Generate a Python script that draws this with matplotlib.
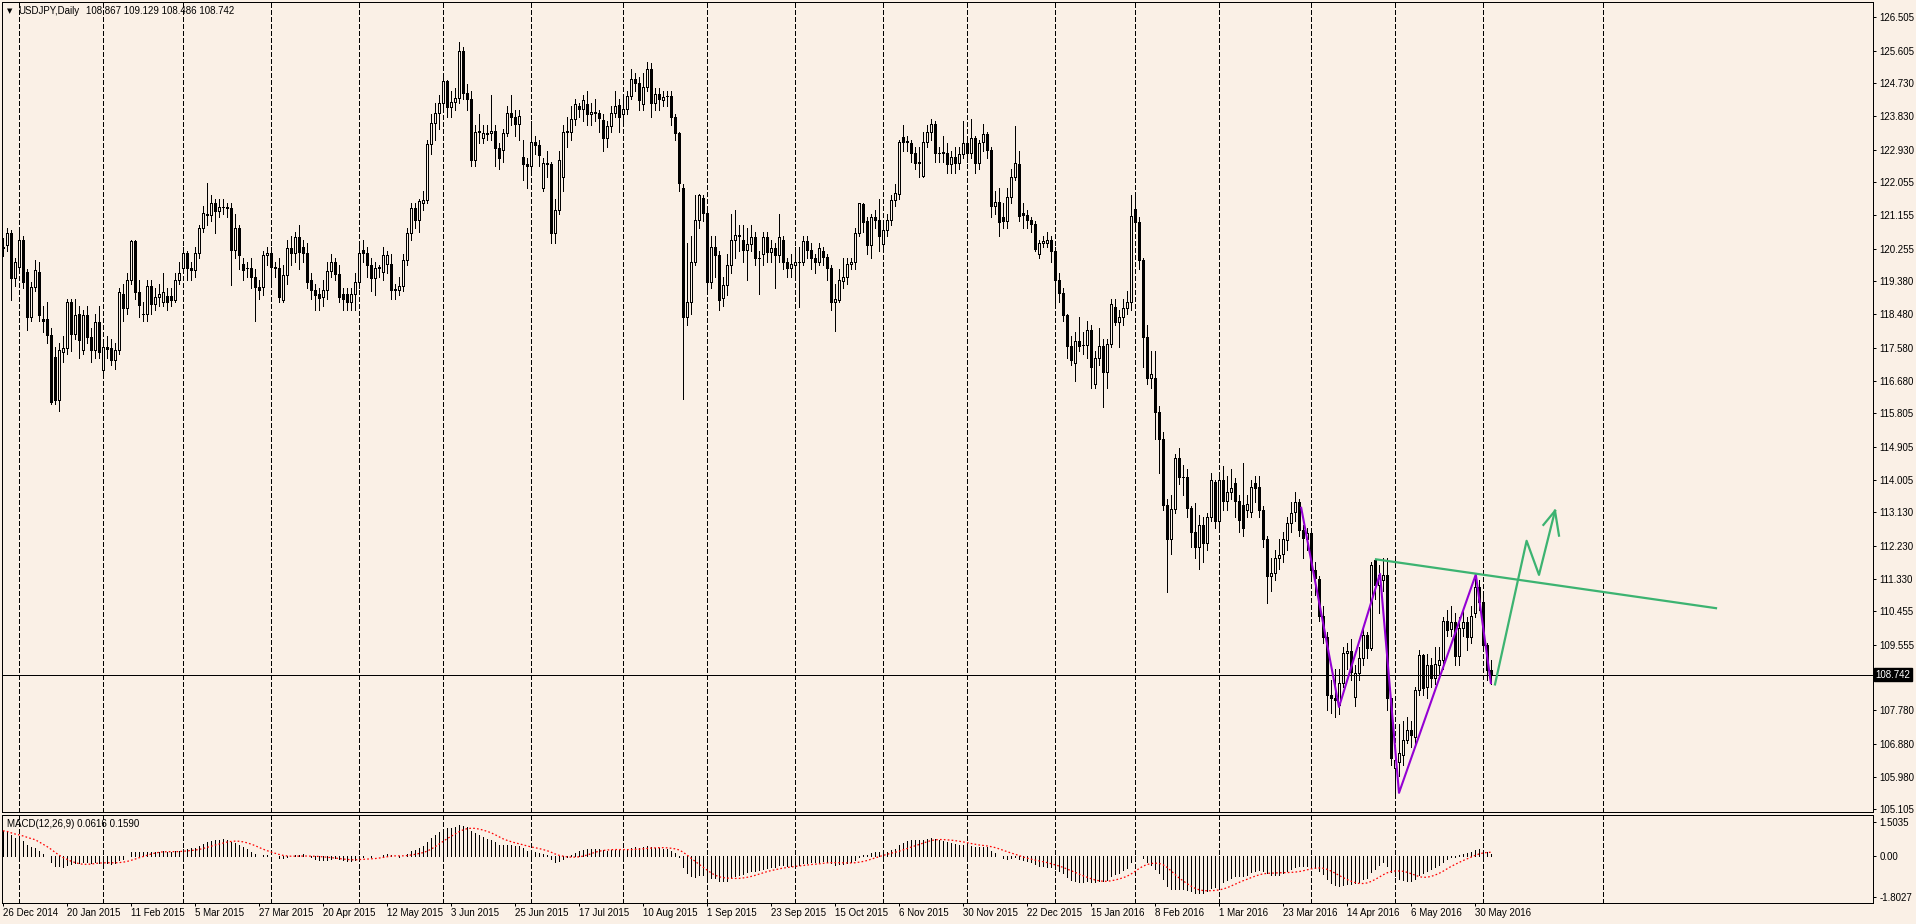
import numpy as np
import pandas as pd
import matplotlib
matplotlib.use("Agg")
import matplotlib.pyplot as plt
import matplotlib.transforms as mtrans

# USDJPY daily bars, 26 Dec 2014 .. 3 Jun 2016
opens = [
    120.30, 120.35, 120.67, 119.45, 119.76, 120.49, 119.63, 118.41, 119.22, 119.63,
    118.34, 118.34, 117.92, 117.33, 116.16, 117.47, 117.56, 118.82, 117.96, 118.50,
    117.51, 118.46, 117.87, 117.51, 118.28, 116.97, 117.60, 117.56, 117.24, 117.51,
    119.04, 118.64, 119.40, 120.47, 119.09, 118.50, 118.48, 119.24, 118.77, 118.95,
    118.82, 118.97, 118.97, 118.86, 119.40, 119.72, 120.13, 119.72, 119.67, 120.13,
    120.80, 121.16, 121.16, 121.48, 121.28, 121.39, 121.37, 121.34, 120.22, 120.80,
    119.83, 119.73, 119.72, 119.48, 119.21, 119.21, 120.08, 120.13, 119.76, 119.72,
    118.86, 119.54, 120.26, 120.13, 120.56, 120.31, 120.13, 119.40, 119.13, 119.02,
    118.95, 119.15, 119.66, 119.90, 119.58, 119.03, 119.04, 118.82, 119.03, 119.36,
    120.22, 120.13, 119.81, 119.45, 119.72, 119.63, 119.85, 119.85, 119.16, 119.15,
    119.24, 119.96, 120.69, 121.34, 121.03, 121.48, 121.57, 123.07, 123.64, 123.93,
    124.18, 124.78, 124.09, 124.22, 124.33, 125.59, 124.47, 124.31, 122.65, 123.43,
    123.23, 123.39, 123.37, 123.43, 122.96, 122.93, 123.37, 123.93, 123.82, 123.61,
    122.72, 122.53, 122.48, 123.14, 123.05, 121.90, 122.56, 122.53, 120.69, 121.31,
    122.18, 123.42, 123.41, 123.75, 124.11, 124.02, 124.15, 123.88, 123.95, 123.91,
    123.73, 123.23, 123.57, 123.93, 124.13, 123.88, 124.02, 124.38, 124.85, 124.72,
    124.15, 124.61, 125.10, 124.20, 124.42, 124.27, 124.38, 124.38, 123.80, 123.37,
    121.88, 118.40, 118.82, 119.90, 121.03, 121.63, 121.21, 119.36, 120.31, 120.08,
    118.91, 119.27, 119.81, 120.50, 120.61, 120.50, 120.23, 120.39, 120.56, 120.00,
    120.10, 120.56, 120.15, 120.26, 120.08, 120.50, 119.90, 119.72, 119.81, 119.90,
    119.90, 120.47, 120.22, 119.99, 119.90, 120.20, 120.04, 119.72, 118.82, 118.86,
    119.38, 119.49, 119.83, 119.90, 120.69, 121.46, 121.01, 120.35, 121.10, 121.04,
    120.37, 120.76, 121.04, 121.57, 121.72, 123.28, 123.15, 123.12, 122.85, 122.59,
    122.22, 123.14, 123.41, 123.62, 122.85, 122.85, 122.83, 122.53, 122.72, 122.56,
    122.81, 123.10, 122.85, 123.23, 122.58, 123.14, 123.34, 122.92, 121.41, 121.52,
    121.12, 121.01, 121.66, 122.20, 122.53, 121.21, 121.16, 121.04, 120.92, 120.11,
    120.40, 120.42, 120.50, 120.20, 119.42, 119.05, 118.46, 117.63, 117.17, 117.76,
    117.66, 117.65, 118.05, 116.61, 117.29, 117.63, 116.93, 117.69, 118.67, 118.28,
    118.40, 118.64, 118.80, 121.32, 120.98, 119.96, 117.87, 116.75, 116.77, 115.85,
    115.10, 113.33, 112.40, 113.21, 114.59, 114.09, 114.08, 113.24, 112.60, 112.20,
    112.80, 112.30, 113.00, 113.96, 112.90, 114.00, 113.44, 113.69, 113.91, 113.44,
    113.33, 113.20, 113.15, 113.91, 113.82, 113.20, 112.40, 111.40, 111.50, 111.90,
    112.00, 112.38, 112.83, 113.15, 113.42, 112.65, 112.40, 112.56, 111.57, 111.32,
    110.33, 109.75, 108.20, 108.10, 107.92, 108.53, 109.32, 109.37, 108.15, 108.80,
    109.19, 109.82, 109.46, 111.84, 111.17, 111.30, 111.44, 108.10, 106.21, 106.39,
    106.57, 106.99, 107.25, 107.07, 108.33, 109.28, 108.42, 109.00, 108.64, 109.00,
    109.14, 110.19, 109.97, 110.18, 109.25, 110.00, 110.16, 109.77, 110.40, 111.12,
    110.72, 109.55, 108.867,
]
highs = [
    120.55, 120.80, 120.75, 120.00, 120.75, 120.60, 119.70, 119.35, 119.96, 119.90,
    118.70, 118.80, 118.10, 117.60, 117.70, 117.90, 118.90, 118.90, 118.90, 118.70,
    118.60, 118.70, 118.10, 118.50, 118.70, 117.80, 117.90, 117.80, 117.70, 119.20,
    119.30, 119.60, 120.50, 120.50, 119.40, 118.80, 119.40, 119.40, 119.20, 119.30,
    119.60, 119.20, 119.20, 119.60, 119.90, 120.30, 120.20, 119.90, 120.30, 120.90,
    121.40, 122.02, 121.70, 121.60, 121.60, 121.60, 121.50, 121.50, 121.20, 120.90,
    120.00, 119.90, 120.00, 119.70, 119.40, 120.20, 120.30, 120.30, 119.90, 120.00,
    119.80, 120.50, 120.60, 120.70, 120.90, 120.50, 120.40, 119.60, 119.30, 119.20,
    119.40, 119.90, 120.10, 120.00, 119.80, 119.20, 119.20, 119.20, 119.60, 120.40,
    120.50, 120.30, 120.00, 119.90, 119.80, 120.30, 120.20, 120.10, 119.30, 119.50,
    120.10, 120.80, 121.50, 121.50, 121.60, 121.80, 123.20, 123.90, 124.20, 124.40,
    124.95, 124.80, 124.50, 124.60, 125.84, 125.70, 124.70, 124.50, 123.60, 123.90,
    123.60, 123.60, 124.40, 123.60, 123.10, 123.50, 124.10, 124.40, 124.00, 124.00,
    123.20, 122.70, 123.70, 123.30, 123.20, 122.70, 122.90, 122.60, 121.60, 122.90,
    123.60, 123.80, 124.10, 124.30, 124.20, 124.40, 124.50, 124.20, 124.30, 124.00,
    123.90, 123.70, 124.10, 124.50, 124.30, 124.30, 124.50, 125.10, 125.00, 124.90,
    125.00, 125.30, 125.28, 124.60, 124.60, 124.50, 124.50, 124.50, 123.90, 123.40,
    122.00, 120.40, 120.60, 121.70, 121.74, 121.70, 121.30, 120.60, 120.60, 120.20,
    119.50, 120.10, 121.20, 121.30, 120.90, 120.90, 120.80, 120.90, 120.70, 120.20,
    120.70, 120.70, 120.50, 120.40, 121.20, 120.60, 120.00, 120.10, 120.30, 120.30,
    120.60, 120.60, 120.40, 120.10, 120.40, 120.30, 120.10, 119.80, 119.30, 119.70,
    120.00, 120.00, 120.00, 120.80, 121.50, 121.50, 121.10, 121.20, 121.30, 121.60,
    120.90, 121.20, 121.70, 122.00, 123.20, 123.60, 123.30, 123.20, 123.00, 123.00,
    123.40, 123.60, 123.76, 123.70, 123.00, 123.30, 123.10, 122.90, 123.00, 123.00,
    123.70, 123.30, 123.76, 123.30, 123.20, 123.61, 123.40, 123.00, 121.80, 121.90,
    121.50, 121.90, 122.40, 123.57, 122.90, 121.50, 121.30, 121.10, 121.00, 120.50,
    120.60, 120.70, 120.60, 120.30, 119.60, 119.20, 118.50, 117.90, 118.00, 118.40,
    118.00, 118.30, 118.20, 117.50, 118.10, 117.80, 117.80, 118.90, 118.90, 118.60,
    118.90, 119.10, 121.69, 121.70, 121.10, 120.00, 118.20, 117.50, 117.50, 116.00,
    115.30, 113.50, 113.60, 114.70, 114.86, 114.40, 114.30, 113.30, 113.37, 113.05,
    113.00, 113.10, 114.20, 114.00, 114.10, 114.37, 114.10, 114.30, 114.05, 113.60,
    114.45, 113.60, 114.00, 114.10, 114.10, 113.30, 112.50, 111.90, 112.10, 112.40,
    112.60, 113.00, 113.40, 113.69, 113.50, 112.80, 112.70, 112.70, 111.80, 111.40,
    110.60, 109.90, 108.60, 108.90, 108.90, 109.50, 109.60, 109.70, 109.00, 109.50,
    110.00, 109.90, 111.80, 111.88, 111.70, 111.90, 111.90, 108.10, 106.80, 107.40,
    107.50, 107.60, 107.50, 108.40, 109.40, 109.30, 109.30, 109.20, 109.50, 109.50,
    110.30, 110.50, 110.60, 110.40, 110.30, 110.50, 110.30, 110.60, 111.45, 111.30,
    110.90, 109.60, 109.129,
]
lows = [
    120.05, 120.20, 118.86, 119.25, 119.60, 119.20, 118.05, 118.30, 119.10, 118.30,
    118.00, 117.70, 116.05, 116.05, 115.86, 117.20, 117.40, 117.50, 117.80, 117.30,
    117.40, 117.70, 117.20, 117.30, 117.30, 116.90, 117.30, 117.10, 117.00, 117.40,
    118.30, 118.50, 119.30, 118.90, 118.40, 118.30, 118.30, 118.50, 118.60, 118.70,
    118.70, 118.60, 118.70, 118.80, 119.30, 119.60, 119.40, 119.40, 119.50, 120.00,
    120.70, 120.90, 121.00, 120.67, 121.10, 121.20, 121.10, 119.27, 120.00, 119.70,
    119.40, 119.50, 119.20, 118.31, 118.90, 119.00, 119.80, 119.30, 119.50, 118.80,
    118.80, 119.30, 119.80, 119.90, 119.70, 119.90, 119.20, 118.90, 118.60, 118.60,
    118.70, 118.90, 119.50, 119.40, 118.80, 118.60, 118.60, 118.60, 118.60, 119.20,
    119.90, 119.50, 119.10, 119.00, 119.50, 119.40, 119.60, 118.90, 118.90, 119.00,
    119.10, 119.80, 120.50, 120.80, 120.70, 121.30, 121.50, 122.80, 123.20, 123.50,
    124.00, 123.80, 123.80, 124.00, 124.20, 124.30, 124.00, 122.50, 122.50, 123.10,
    123.10, 123.20, 123.20, 122.50, 122.40, 122.60, 123.30, 123.60, 123.30, 123.20,
    122.10, 121.90, 122.30, 122.80, 122.50, 121.80, 122.20, 120.40, 120.40, 121.20,
    121.80, 123.00, 123.20, 123.60, 123.80, 123.70, 123.60, 123.60, 123.70, 123.40,
    122.90, 123.00, 123.40, 123.80, 123.40, 123.60, 123.90, 124.30, 124.50, 124.00,
    124.00, 124.50, 123.80, 124.00, 124.00, 124.10, 124.10, 123.60, 123.20, 121.80,
    116.18, 118.20, 118.50, 119.80, 120.80, 121.00, 119.10, 119.20, 119.50, 118.60,
    118.70, 119.00, 119.60, 120.00, 120.20, 119.90, 119.40, 120.20, 119.80, 119.04,
    119.80, 119.90, 119.90, 119.20, 119.90, 119.70, 119.50, 119.50, 119.50, 118.67,
    119.80, 120.00, 119.70, 119.60, 119.80, 119.80, 119.40, 118.60, 118.04, 118.80,
    119.20, 119.30, 119.70, 119.70, 120.60, 120.70, 120.10, 120.00, 120.80, 120.20,
    120.20, 120.60, 120.90, 121.40, 121.60, 122.90, 122.90, 122.60, 122.40, 122.20,
    122.20, 123.00, 123.20, 122.60, 122.60, 122.60, 122.30, 122.30, 122.30, 122.40,
    122.70, 122.60, 122.70, 122.30, 122.40, 122.90, 122.70, 121.10, 121.20, 120.60,
    120.80, 120.80, 121.50, 122.10, 121.00, 120.80, 120.80, 120.70, 120.20, 120.00,
    120.30, 120.30, 119.90, 118.70, 118.80, 118.30, 117.30, 117.10, 116.68, 117.50,
    117.40, 117.30, 116.50, 116.50, 117.10, 115.98, 116.50, 117.60, 118.20, 117.60,
    118.20, 118.50, 118.60, 120.80, 119.70, 117.05, 116.60, 116.50, 115.10, 114.20,
    113.20, 110.98, 112.00, 113.10, 113.90, 113.60, 113.00, 112.20, 111.90, 111.60,
    111.80, 112.10, 112.90, 112.70, 112.70, 113.20, 113.20, 113.50, 113.00, 112.60,
    112.50, 113.00, 113.00, 113.40, 113.00, 112.20, 110.67, 111.00, 111.30, 111.60,
    111.80, 112.10, 112.60, 112.90, 112.50, 111.90, 112.10, 111.30, 110.90, 110.20,
    109.60, 107.80, 107.70, 107.61, 107.67, 108.40, 108.90, 108.60, 107.90, 108.60,
    109.00, 109.20, 109.40, 110.80, 110.40, 111.00, 107.80, 106.30, 105.55, 106.00,
    106.30, 106.90, 106.80, 106.90, 108.20, 108.20, 108.10, 108.40, 108.50, 108.70,
    108.90, 109.80, 109.80, 109.00, 109.00, 109.80, 109.40, 109.60, 110.30, 110.50,
    109.40, 108.60, 108.486,
]
closes = [
    120.26, 120.67, 119.45, 119.90, 120.49, 119.36, 118.41, 119.22, 119.67, 118.46,
    118.31, 117.92, 116.12, 116.16, 117.51, 117.56, 118.82, 117.96, 118.46, 117.78,
    118.46, 117.87, 117.51, 118.28, 117.47, 117.60, 117.55, 117.24, 117.51, 119.09,
    118.64, 119.42, 120.47, 119.09, 118.73, 118.48, 119.24, 118.77, 118.95, 119.03,
    119.08, 118.82, 118.86, 119.40, 119.60, 120.13, 119.72, 119.67, 120.13, 120.80,
    121.21, 121.18, 121.48, 121.28, 121.39, 121.38, 121.34, 120.22, 120.80, 120.08,
    119.69, 119.72, 119.48, 119.21, 119.13, 120.08, 120.13, 119.76, 119.72, 118.95,
    119.54, 120.26, 120.13, 120.56, 120.17, 120.13, 119.36, 119.13, 118.99, 118.93,
    119.15, 119.66, 119.90, 119.58, 118.94, 118.88, 118.82, 119.03, 119.36, 120.13,
    120.13, 119.81, 119.45, 119.72, 119.76, 120.08, 120.08, 119.15, 119.15, 119.24,
    119.96, 120.69, 121.34, 121.03, 121.55, 121.57, 123.07, 123.64, 123.93, 124.18,
    124.78, 124.09, 124.22, 124.33, 125.59, 124.45, 124.31, 122.65, 123.41, 123.41,
    123.39, 123.35, 123.43, 122.96, 122.69, 123.37, 123.93, 123.82, 123.61, 123.84,
    122.53, 122.48, 123.14, 123.05, 122.78, 122.56, 122.53, 120.69, 121.31, 122.66,
    123.41, 123.41, 123.75, 124.15, 124.04, 124.27, 123.88, 123.95, 123.91, 123.79,
    123.23, 123.57, 123.93, 124.11, 123.82, 124.02, 124.38, 124.85, 124.72, 124.27,
    124.61, 125.10, 124.20, 124.42, 124.29, 124.36, 124.38, 123.80, 123.39, 122.04,
    118.40, 118.82, 119.90, 121.03, 121.70, 121.21, 119.36, 120.31, 120.08, 118.86,
    119.27, 119.81, 120.50, 120.62, 120.60, 120.23, 120.39, 120.56, 119.99, 120.01,
    120.56, 120.15, 120.26, 120.08, 120.56, 119.90, 119.72, 119.85, 119.90, 119.90,
    120.47, 120.22, 119.99, 119.90, 120.26, 120.02, 119.72, 118.82, 118.88, 119.42,
    119.49, 119.83, 119.90, 120.67, 121.48, 120.98, 120.35, 121.10, 121.04, 120.60,
    120.76, 121.04, 121.57, 121.75, 123.14, 123.14, 123.14, 122.85, 122.58, 122.58,
    123.14, 123.41, 123.61, 122.85, 122.84, 122.86, 122.53, 122.72, 122.56, 122.81,
    123.10, 122.85, 123.23, 122.58, 123.10, 123.34, 122.92, 121.41, 121.52, 120.98,
    121.01, 121.66, 122.20, 122.56, 121.14, 121.16, 121.04, 120.91, 120.24, 120.40,
    120.45, 120.50, 120.20, 119.41, 119.05, 118.46, 117.63, 117.24, 117.76, 117.63,
    117.65, 118.05, 117.05, 117.29, 117.63, 116.93, 117.69, 118.77, 118.28, 118.40,
    118.64, 118.80, 121.14, 120.98, 119.95, 117.87, 116.75, 116.88, 115.85, 115.10,
    113.33, 112.40, 113.21, 114.59, 114.09, 114.08, 113.24, 112.60, 112.20, 112.80,
    112.30, 113.00, 114.00, 112.90, 114.00, 113.44, 113.69, 113.78, 113.44, 112.92,
    112.70, 113.35, 113.82, 113.78, 113.20, 112.40, 111.40, 111.50, 111.90, 111.98,
    112.40, 112.83, 113.10, 113.42, 112.65, 112.43, 112.56, 111.57, 111.35, 110.33,
    109.77, 108.20, 108.10, 108.06, 108.53, 109.32, 109.37, 108.82, 108.80, 109.19,
    109.82, 109.46, 111.71, 111.17, 111.44, 111.44, 108.10, 106.48, 106.44, 106.62,
    106.99, 107.25, 107.11, 108.33, 109.28, 108.37, 109.00, 108.64, 109.03, 109.14,
    110.19, 109.95, 110.18, 109.25, 110.00, 110.16, 109.77, 110.33, 111.12, 110.72,
    109.55, 108.87, 108.742,
]

price_ticks = [126.505, 125.605, 124.730, 123.830, 122.930, 122.055, 121.155,
               120.255, 119.380, 118.480, 117.580, 116.680, 115.805, 114.905,
               114.005, 113.130, 112.230, 111.330, 110.455, 109.555, 107.780,
               106.880, 105.980, 105.105]
macd_ticks = [1.5035, 0.0, -1.8027]
macd_tick_labels = ["1.5035", "0.00", "-1.8027"]
last_price = 108.742
header_values = "108.867 109.129 108.486 108.742"
macd_header = "MACD(12,26,9) 0.0616 0.1590"
# EMA levels carried in from the bars before the window
ema_fast_seed = 120.35
ema_slow_seed = 119.15

# hand drawn objects, (bar index, price)
zigzag_bars = [324.5, 334.0, 344.25, 349.0, 368.2, 372.0]
zigzag_prices = [113.28, 107.87, 111.47, 105.55, 111.45, 108.49]
trend_bars = [343.25, 428.25]
trend_prices = [111.86, 110.54]
arrow_bars = [373.0, 380.9, 384.0, 388.0]
arrow_prices = [108.48, 112.36, 111.44, 113.17]
barb_bars = [385.1, 389.0]
barb_prices = [112.79, 112.50]
future_grid_bars = [400]

BG = "#FAF0E6"
W, H = 1916, 924
PX = 0.72  # one pixel in points at dpi 100
plt.rcParams['font.family'] = ['Liberation Sans', 'DejaVu Sans']
plt.rcParams['lines.scale_dashes'] = False
DASH = (0, (2.9, 1.45))

days = pd.bdate_range("2014-12-26", "2016-06-03")
skip = ((days.month == 12) & (days.day == 25)) | ((days.month == 1) & (days.day == 1))
days = days[~skip]

n = len(closes)
x = np.arange(n)
o = np.array(opens)
h = np.array(highs)
l = np.array(lows)
c = np.array(closes)
days = days[:n]


def rect(x0, y0, x1, y1):
    return [x0 / W, 1 - y1 / H, (x1 - x0) / W, (y1 - y0) / H]


fig = plt.figure(figsize=(W / 100, H / 100), dpi=100, facecolor=BG)
ax = fig.add_axes(rect(2, 2, 1873, 812), facecolor=BG)
axm = fig.add_axes(rect(2, 815, 1873, 903), facecolor=BG, sharex=ax)

# month grid
month_start = [i for i in range(1, n) if days[i].month != days[i - 1].month]
for a in (ax, axm):
    for i in month_start + future_grid_bars:
        a.axvline(i, color='black', lw=PX, ls=DASH, antialiased=False, zorder=1)

# candles
up = c >= o
lo_body = np.minimum(o, c)
hi_body = np.abs(c - o)
ax.vlines(x, l, h, color='black', lw=PX, antialiased=False, zorder=2)
ax.bar(x[up], hi_body[up], bottom=lo_body[up], width=0.5, facecolor=BG,
       edgecolor='black', lw=PX, antialiased=False, zorder=3)
ax.bar(x[~up], hi_body[~up], bottom=lo_body[~up], width=0.5, facecolor='black',
       edgecolor='black', lw=PX, antialiased=False, zorder=3)

ax.axhline(last_price, color='black', lw=PX, antialiased=False, zorder=4)

# drawings
ax.plot(zigzag_bars, zigzag_prices, color='#9400D3', lw=1.5, zorder=5,
        solid_capstyle='butt')
ax.plot(trend_bars, trend_prices, color='#3CB371', lw=1.6, zorder=5)
ax.plot(arrow_bars, arrow_prices, color='#3CB371', lw=1.6, zorder=5)
for bx, by in zip(barb_bars, barb_prices):
    ax.plot([arrow_bars[-1], bx], [arrow_prices[-1], by], color='#3CB371',
            lw=1.6, zorder=5)

ax.set_xlim(-0.25, 467.5)
ax.set_ylim(105.033, 126.918)

ax.yaxis.tick_right()
ax.set_yticks(price_ticks)
ax.set_yticklabels([f"{v:.3f}" for v in price_ticks])
ax.tick_params(axis='y', direction='out', length=2.2, width=PX, pad=2.5,
               labelsize=7, colors='black')
ax.tick_params(axis='x', bottom=False, labelbottom=False)
for s in ax.spines.values():
    s.set_linewidth(PX)

trans = mtrans.blended_transform_factory(ax.transAxes, ax.transData)
ax.text(1.0015, last_price, f"{last_price:.3f}", transform=trans, ha='left',
        va='center', fontsize=7, color='white', zorder=6,
        bbox=dict(boxstyle='square,pad=0.18', facecolor='black', edgecolor='black'))

# MACD (12, 26, 9) of the closes, MT4 style: EMA difference and SMA signal
alpha_f = 2 / 13
alpha_s = 2 / 27
ema_f = np.empty(n)
ema_s = np.empty(n)
pf, ps = ema_fast_seed, ema_slow_seed
for i in range(n):
    pf = alpha_f * c[i] + (1 - alpha_f) * pf
    ps = alpha_s * c[i] + (1 - alpha_s) * ps
    ema_f[i] = pf
    ema_s[i] = ps
macd = ema_f - ema_s
signal = pd.Series(macd).rolling(9, min_periods=1).mean().values

axm.vlines(x, 0, macd, color='black', lw=PX, antialiased=False, zorder=2)
axm.plot(x, signal, color='red', lw=0.9, ls=(0, (1.2, 1.6)), zorder=3)
axm.set_ylim(-2.08, 1.80)
axm.yaxis.tick_right()
axm.set_yticks(macd_ticks)
axm.set_yticklabels(macd_tick_labels)
axm.tick_params(axis='y', direction='out', length=2.2, width=PX, pad=2.5,
                labelsize=7, colors='black')

label_idx = list(range(0, n, 16))
axm.set_xticks(label_idx)
axm.set_xticklabels([f"{days[i].day} {days[i].strftime('%b %Y')}" for i in label_idx],
                    ha='left')
axm.tick_params(axis='x', direction='out', length=2.2, width=PX, pad=1.5,
                labelsize=7, colors='black')
for s in axm.spines.values():
    s.set_linewidth(PX)

# header texts
fig.text(7 / W, 1 - 11 / H, "\u25bc", fontsize=5, family='DejaVu Sans',
         va='center', ha='left')
fig.text(18 / W, 1 - 11 / H, "USDJPY,Daily", fontsize=7, va='center', ha='left')
fig.text(86 / W, 1 - 11 / H, header_values, fontsize=7, va='center', ha='left')
fig.text(7 / W, 1 - 824 / H, macd_header, fontsize=7, va='center', ha='left')

fig.savefig("out.png", dpi=100, facecolor=BG)
